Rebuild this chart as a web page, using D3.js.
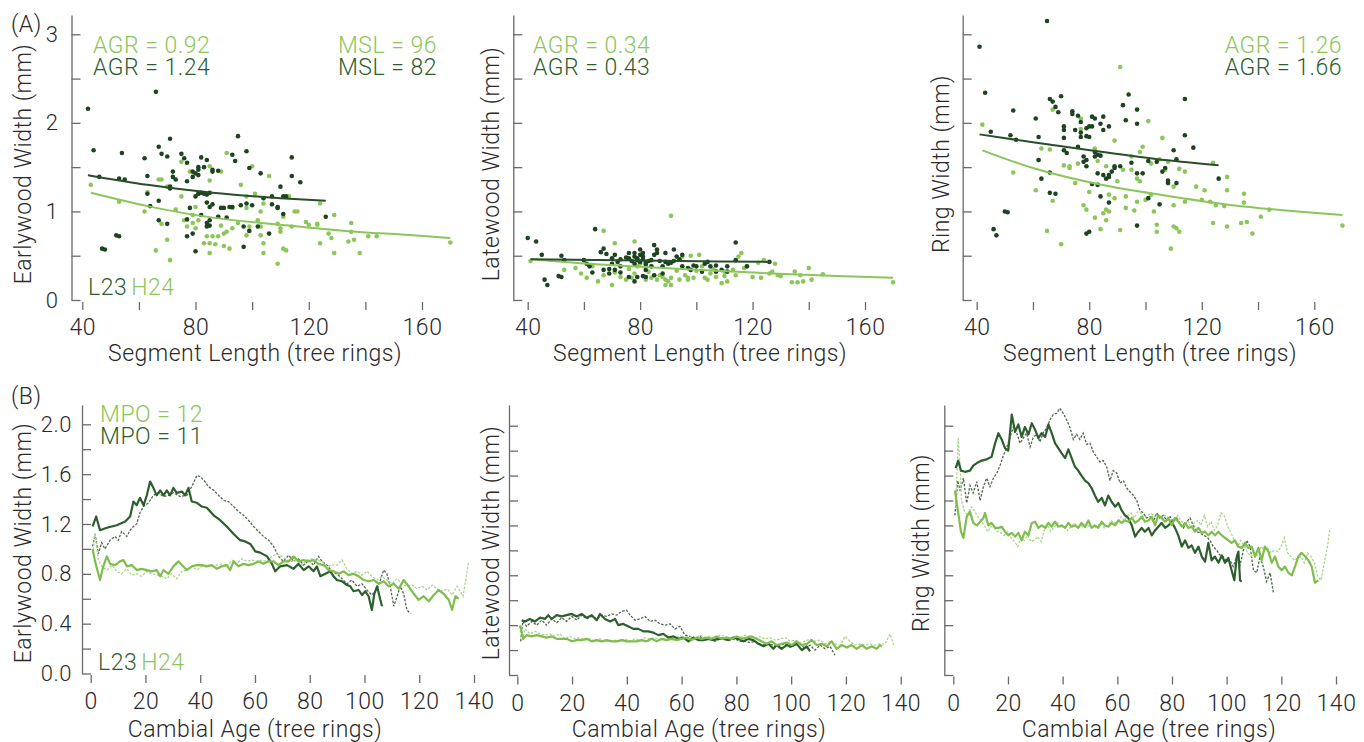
<!DOCTYPE html>
<html><head><meta charset="utf-8">
<script src="https://cdn.jsdelivr.net/npm/d3@7"></script>
<style>
body{margin:0;background:#fff;}
svg text{font-family:Roboto,"Helvetica Neue","Liberation Sans",sans-serif;font-weight:300;letter-spacing:0.5px;}
</style></head><body>
<svg id="c" width="1364" height="742"></svg>
<script>
// ---------- tick / label arrays ----------
const topXTicks=[40,60,80,100,120,140,160];
const topXLabels=[40,80,120,160];
const topYTicks=[0,0.5,1,1.5,2,2.5,3];
const topYLabels=[0,1,2,3];
const botXTicks=[0,20,40,60,80,100,120,140];
const botYTicks=[0,0.2,0.4,0.6,0.8,1.0,1.2,1.4,1.6,1.8,2.0];
const botYLabels=[0,0.4,0.8,1.2,1.6,2.0];
const yTitles=["Earlywood Width (mm)","Latewood Width (mm)","Ring Width (mm)"];
const topXTitle="Segment Length (tree rings)";
const botXTitle="Cambial Age (tree rings)";
const sites=["L23","H24"];
const agrH24=["AGR = 0.92","AGR = 0.34","AGR = 1.26"];
const agrL23=["AGR = 1.24","AGR = 0.43","AGR = 1.66"];
const mslH24="MSL = 96", mslL23="MSL = 82";
const mpoH24="MPO = 12", mpoL23="MPO = 11";

// ---------- (A) scatter data: [segment length, mean width] ----------
const ewL23=[[42,2.16],[66,2.35],[44,1.69],[54,1.66],[71,1.82],[95,1.85],[67,1.73],[62,1.60],[68,1.65],[70,1.62],[75,1.65],[76,1.60],[77,1.55],[82,1.61],[84,1.58],[98,1.68],[93,1.64],[94,1.57],[114,1.61],[99,1.49],[103,1.43],[114,1.40],[117,1.33],[110,1.28],[46,1.39],[53,1.37],[55,1.36],[63,1.40],[72,1.45],[72,1.39],[73,1.36],[77,1.34],[71,1.26],[71,1.28],[79,1.45],[79,1.39],[80,1.43],[81,1.47],[81,1.41],[81,1.50],[83,1.50],[86,1.45],[86,1.47],[88,1.46],[63,1.20],[67,1.12],[64,1.06],[81,1.20],[82,1.21],[83,1.20],[85,1.21],[80,1.17],[78,1.04],[82,0.96],[84,1.10],[85,1.05],[86,1.08],[89,1.04],[90,1.04],[92,1.05],[93,1.05],[96,1.07],[98,1.09],[100,1.07],[104,1.15],[107,1.17],[111,1.17],[112,1.17],[107,1.08],[109,1.05],[109,1.04],[111,0.97],[91,0.93],[88,0.94],[85,0.90],[84,0.87],[84,0.83],[85,0.84],[67,0.90],[70,0.86],[77,0.91],[77,0.72],[79,0.75],[97,0.83],[99,0.78],[102,0.83],[106,0.75],[97,0.60],[52,0.73],[53,0.72],[47,0.58],[48,0.57],[80,0.55],[126,0.94],[84,1.19]];
const ewH24=[[43,1.30],[53,1.11],[62,1.00],[63,1.22],[67,1.36],[68,1.36],[68,0.86],[70,0.68],[71,0.45],[66,0.56],[73,1.02],[75,1.17],[76,0.90],[77,0.83],[79,0.96],[79,0.87],[80,0.81],[81,0.90],[83,0.64],[84,0.72],[85,0.53],[85,0.64],[86,0.72],[87,0.63],[88,0.72],[88,0.94],[89,0.84],[90,0.75],[91,0.77],[90,0.61],[92,0.58],[93,0.81],[95,0.87],[96,1.30],[98,1.04],[98,0.73],[99,0.83],[100,1.51],[101,1.20],[102,0.90],[103,0.83],[103,0.73],[104,1.09],[104,0.64],[104,0.53],[106,1.40],[109,0.86],[110,0.81],[110,0.77],[109,0.41],[111,0.94],[111,0.58],[112,0.56],[113,1.17],[114,0.83],[115,1.00],[116,1.00],[119,0.88],[120,0.85],[123,0.85],[123,0.86],[124,1.09],[124,0.64],[127,0.75],[128,0.70],[129,0.96],[129,0.53],[134,0.66],[135,0.87],[135,0.77],[136,0.68],[138,0.53],[141,0.72],[144,0.72],[170,0.65],[91,1.66],[85,1.51],[89,1.45],[81,1.20],[75,1.56],[78,1.45],[70,1.28],[85,1.35],[98,1.17],[93,1.04],[103,1.00],[80,1.05]];
const lwL23=[[40,0.70],[43,0.66],[45,0.51],[46,0.23],[47,0.17],[51,0.27],[52,0.26],[52,0.50],[53,0.45],[60,0.45],[61,0.41],[63,0.31],[62,0.38],[64,0.80],[66,0.54],[67,0.58],[68,0.52],[70,0.47],[69,0.35],[70,0.41],[71,0.51],[72,0.43],[73,0.46],[73,0.38],[75,0.48],[76,0.53],[76,0.47],[77,0.44],[78,0.41],[78,0.49],[78,0.53],[79,0.47],[79,0.45],[80,0.51],[80,0.43],[80,0.57],[81,0.49],[81,0.53],[81,0.46],[82,0.40],[82,0.42],[82,0.34],[83,0.44],[84,0.38],[84,0.45],[85,0.51],[85,0.62],[86,0.57],[86,0.53],[87,0.44],[88,0.38],[88,0.30],[89,0.43],[90,0.41],[91,0.42],[92,0.57],[92,0.44],[94,0.46],[95,0.38],[97,0.36],[98,0.34],[99,0.39],[100,0.38],[102,0.32],[104,0.43],[105,0.38],[107,0.32],[109,0.34],[111,0.38],[111,0.32],[114,0.65],[114,0.45],[118,0.38],[79,0.26],[78,0.21],[76,0.26],[81,0.27],[82,0.26],[85,0.28],[71,0.34],[73,0.31],[126,0.43],[67,0.34],[69,0.30],[89,0.53],[93,0.49],[95,0.51],[103,0.41],[107,0.39]];
const lwH24=[[41,0.44],[53,0.34],[61,0.25],[63,0.38],[65,0.21],[67,0.78],[67,0.28],[70,0.17],[71,0.64],[71,0.31],[73,0.26],[75,0.23],[76,0.35],[77,0.25],[78,0.66],[78,0.30],[79,0.38],[80,0.41],[81,0.48],[82,0.23],[82,0.26],[83,0.32],[84,0.38],[84,0.25],[85,0.28],[86,0.23],[87,0.28],[88,0.26],[89,0.23],[90,0.21],[91,0.95],[91,0.25],[93,0.33],[94,0.23],[95,0.49],[96,0.28],[97,0.25],[97,0.23],[98,0.50],[99,0.25],[100,0.33],[101,0.51],[102,0.38],[103,0.25],[104,0.23],[105,0.30],[106,0.35],[109,0.19],[110,0.27],[110,0.32],[111,0.21],[113,0.34],[114,0.28],[115,0.49],[116,0.53],[117,0.36],[118,0.38],[120,0.26],[122,0.42],[123,0.25],[124,0.45],[126,0.30],[127,0.32],[128,0.41],[129,0.28],[130,0.27],[135,0.32],[137,0.28],[140,0.36],[145,0.29],[134,0.20],[136,0.20],[138,0.21],[141,0.23],[170,0.20],[59,0.30],[57,0.36],[107,0.26],[89,0.17],[91,0.17]];
const rwL23=[[41,2.86],[65,3.15],[43,2.34],[45,1.90],[53,2.14],[52,1.86],[54,1.81],[61,2.05],[62,1.84],[62,1.58],[63,1.37],[66,1.44],[66,1.21],[68,1.20],[66,2.27],[67,2.24],[70,2.30],[68,2.18],[69,2.12],[71,1.96],[71,1.83],[71,1.92],[71,1.69],[72,1.66],[74,2.13],[74,2.10],[75,1.92],[76,2.08],[76,1.73],[77,2.01],[77,1.89],[77,1.84],[78,1.62],[78,1.56],[79,1.51],[79,1.58],[79,1.94],[79,1.85],[80,1.96],[80,1.84],[81,2.07],[81,1.96],[82,1.67],[82,1.62],[82,2.05],[83,1.43],[83,1.64],[84,1.63],[84,1.99],[85,1.41],[85,1.92],[85,2.07],[86,1.37],[87,1.96],[87,1.39],[87,1.41],[88,1.45],[89,1.49],[91,1.51],[92,2.20],[93,2.03],[94,2.32],[95,1.55],[97,1.43],[97,2.15],[97,1.99],[99,1.43],[101,1.57],[101,1.15],[104,1.56],[105,1.08],[106,1.45],[107,1.49],[108,1.35],[108,1.32],[110,1.69],[111,1.32],[111,1.59],[114,2.27],[114,1.86],[117,1.72],[126,1.37],[46,0.80],[47,0.73],[50,1.00],[51,0.99],[79,0.75],[80,0.77],[87,1.10],[97,0.84],[81,1.31],[83,1.30],[84,1.17],[89,1.51]];
const rwH24=[[42,1.98],[53,1.44],[61,1.24],[62,1.58],[63,1.71],[67,2.15],[67,1.12],[70,0.63],[65,0.78],[71,1.52],[73,1.51],[73,1.49],[75,1.32],[77,2.05],[77,1.93],[78,1.07],[79,1.02],[80,1.22],[82,0.93],[82,1.71],[83,1.30],[84,0.80],[85,0.98],[86,1.02],[86,0.90],[87,1.00],[87,1.19],[89,1.80],[89,1.15],[90,1.34],[91,2.63],[91,0.79],[92,1.47],[93,1.17],[93,1.04],[95,1.62],[96,1.01],[97,1.11],[97,1.37],[98,1.67],[98,1.34],[99,1.73],[100,1.13],[101,2.02],[102,1.19],[102,1.54],[103,1.00],[104,0.85],[104,0.77],[105,1.59],[106,1.83],[107,1.47],[108,1.56],[109,0.58],[110,1.28],[110,1.07],[110,0.83],[111,0.81],[112,0.77],[112,1.48],[114,1.45],[114,1.11],[118,1.28],[120,1.13],[121,1.24],[123,1.11],[124,1.55],[124,0.87],[125,1.07],[128,1.06],[129,1.39],[129,1.24],[129,0.83],[134,0.87],[135,1.20],[135,1.10],[136,0.88],[138,0.75],[141,0.94],[144,1.02],[170,0.84],[66,1.70],[76,1.54],[86,1.51],[95,1.47],[83,1.57]];
// fitted curves
const ewFitL23=[[42,1.41],[63,1.30],[86,1.21],[110,1.15],[126,1.12]];
const ewFitH24=[[43,1.21],[63,1.06],[86,0.93],[110,0.85],[133,0.78],[157,0.73],[170,0.70]];
const lwFitL23=[[41,0.46],[80,0.445],[126,0.43]];
const lwFitH24=[[41,0.46],[53,0.43],[83,0.37],[107,0.33],[127,0.30],[150,0.27],[170,0.25]];
const rwFitL23=[[41,1.87],[60,1.78],[83,1.68],[107,1.58],[126,1.52]];
const rwFitH24=[[42,1.69],[60,1.49],[83,1.31],[107,1.18],[131,1.07],[154,1.00],[170,0.96]];

// ---------- (B) mean curves: [cambial age, width] ----------
const ewAgeL23=[[0.7,1.18],[2,1.26],[3.4,1.15],[5.9,1.17],[9.5,1.19],[12.6,1.22],[14.4,1.26],[15.6,1.38],[16.8,1.35],[18,1.41],[19.3,1.35],[20.5,1.43],[21.7,1.54],[22.9,1.49],[24.1,1.43],[25.4,1.47],[26.6,1.43],[27.8,1.47],[29,1.43],[30.2,1.49],[31.4,1.45],[33.3,1.46],[34.5,1.43],[35.7,1.49],[36.9,1.38],[38.8,1.37],[40.6,1.34],[42.4,1.33],[44.9,1.27],[47.3,1.23],[49.7,1.18],[52.2,1.12],[54.6,1.07],[56.4,1.06],[58.3,1.04],[60.1,0.98],[61.9,0.97],[64.4,0.94],[66.2,0.88],[67.4,0.82],[69.2,0.86],[71.7,0.87],[74.1,0.84],[75.9,0.88],[77.8,0.83],[79.6,0.86],[81.4,0.82],[82.6,0.86],[83.9,0.78],[85.7,0.80],[87.5,0.82],[88.7,0.78],[89.9,0.75],[91.8,0.74],[93.6,0.71],[94.8,0.70],[96,0.66],[97.9,0.67],[99.1,0.63],[100.3,0.66],[101.5,0.62],[102.7,0.51],[103.6,0.64],[104.6,0.70],[105.8,0.59],[106.4,0.54]];
const ewAgeL23b=[[0.7,1.02],[1.6,1.12],[2.8,0.96],[4,1.05],[5.2,1.00],[7.1,1.07],[8.9,1.10],[10.1,1.07],[11.3,1.14],[13.2,1.10],[14.4,1.15],[15.6,1.18],[16.8,1.20],[18,1.29],[19.3,1.34],[21.1,1.37],[22.9,1.43],[24.7,1.45],[26.6,1.42],[28.4,1.43],[30.2,1.45],[32.7,1.42],[35.1,1.43],[36.9,1.50],[38.8,1.59],[40,1.58],[41.4,1.55],[43,1.50],[44.9,1.47],[46.7,1.43],[48.5,1.39],[50.3,1.38],[52.2,1.34],[54,1.30],[55.8,1.27],[57.6,1.23],[59.5,1.18],[61.3,1.14],[63.1,1.10],[65,1.07],[66.8,1.02],[68.6,0.94],[70.4,0.90],[72.3,0.95],[74.1,0.90],[75.9,0.92],[77.8,0.87],[79.6,0.91],[81.4,0.87],[83.2,0.94],[84.5,0.90],[86.3,0.87],[88.1,0.82],[89.9,0.80],[91.8,0.76],[93.6,0.72],[95.4,0.75],[97.3,0.70],[99.1,0.72],[100.9,0.67],[102.7,0.63],[104.6,0.68],[105.8,0.75],[107,0.83],[108.2,0.80],[109.4,0.70],[110.7,0.54],[111.9,0.62],[113.1,0.70],[114.3,0.64],[115.5,0.51],[116.8,0.48]];
const ewAgeH24=[[0.7,1.00],[1.6,0.90],[2.8,0.80],[3.4,0.75],[4.6,0.86],[5.9,0.94],[7.1,0.88],[8.9,0.87],[10.7,0.90],[12,0.91],[13.2,0.86],[15,0.87],[16.8,0.83],[18.6,0.84],[20.5,0.83],[22.3,0.82],[24.1,0.83],[25.4,0.78],[26.6,0.83],[28.4,0.80],[30.2,0.86],[32.1,0.90],[33.3,0.87],[35.1,0.83],[36.9,0.86],[38.8,0.87],[40.6,0.87],[42.4,0.86],[44.2,0.87],[46.1,0.84],[47.9,0.86],[49.7,0.87],[50.9,0.83],[52.2,0.90],[54,0.86],[55.8,0.88],[57.6,0.87],[59.5,0.88],[61.3,0.90],[63.1,0.88],[65,0.90],[66.8,0.90],[68.6,0.87],[70.4,0.90],[72.3,0.90],[74.1,0.94],[75.9,0.90],[77.8,0.91],[79.6,0.90],[81.4,0.91],[83.2,0.88],[85.1,0.87],[86.9,0.83],[88.7,0.82],[90.6,0.80],[92.4,0.82],[94.2,0.79],[96,0.80],[97.9,0.78],[99.7,0.75],[101.5,0.74],[103.4,0.75],[105.2,0.72],[107,0.74],[108.8,0.70],[110.7,0.72],[112.5,0.68],[114.3,0.75],[116.1,0.70],[118,0.64],[119.8,0.59],[121.6,0.62],[123.5,0.58],[125.3,0.63],[127.1,0.67],[128.9,0.64],[130.8,0.59],[132,0.51],[133.2,0.62],[134.4,0.60]];
const ewAgeH24b=[[0.7,0.96],[1.6,1.12],[2.8,0.91],[4,0.86],[5.9,0.83],[7.7,0.87],[9.5,0.82],[11.3,0.80],[13.2,0.84],[15,0.79],[16.8,0.80],[18.6,0.78],[20.5,0.82],[22.3,0.80],[24.1,0.79],[26,0.78],[27.8,0.76],[29.6,0.80],[31.4,0.76],[33.3,0.82],[35.1,0.83],[36.9,0.86],[38.8,0.83],[40.6,0.86],[42.4,0.87],[44.2,0.86],[46.1,0.87],[47.9,0.88],[49.7,0.86],[51.6,0.91],[53.4,0.88],[55.2,0.92],[57,0.90],[58.9,0.91],[60.7,0.90],[62.5,0.91],[64.4,0.90],[66.2,0.94],[68,0.96],[69.9,0.94],[71.7,0.91],[73.5,0.90],[75.3,0.91],[77.2,0.87],[79,0.91],[80.8,0.92],[82.6,0.91],[84.5,0.90],[86.3,0.86],[88.1,0.87],[89.9,0.87],[91.8,0.91],[93.6,0.84],[95.4,0.80],[97.3,0.82],[99.1,0.79],[100.9,0.82],[102.7,0.78],[104.6,0.75],[106.4,0.78],[108.2,0.75],[110.1,0.72],[111.9,0.76],[113.7,0.72],[115.5,0.70],[117.4,0.71],[119.2,0.68],[121,0.70],[122.9,0.67],[124.7,0.71],[126.5,0.68],[128.3,0.66],[130.2,0.68],[132,0.63],[133.8,0.70],[135,0.66],[136,0.62],[137,0.75],[138,0.90]];
const lwAgeL23=[[1.6,0.44],[2.8,0.43],[4.6,0.45],[6.5,0.43],[8.3,0.46],[10.1,0.45],[11.3,0.48],[12.6,0.45],[14.4,0.48],[16.2,0.47],[18,0.48],[19.9,0.49],[21.7,0.47],[23.5,0.49],[25.3,0.46],[27.2,0.48],[29,0.44],[30.2,0.49],[32,0.45],[33.9,0.43],[35.7,0.45],[36.9,0.40],[38.7,0.41],[40.6,0.39],[42.4,0.37],[44.2,0.37],[46,0.35],[47.8,0.35],[49.7,0.34],[51.5,0.32],[53.3,0.33],[55.2,0.30],[57,0.31],[58.8,0.29],[60.6,0.30],[62.5,0.27],[64.3,0.30],[66.1,0.28],[67.9,0.28],[69.8,0.29],[71.6,0.28],[73.4,0.29],[75.3,0.29],[77.1,0.28],[78.9,0.30],[80.7,0.29],[82.6,0.27],[84.4,0.29],[86.2,0.28],[88,0.25],[89.9,0.23],[91.7,0.25],[93.5,0.21],[94.7,0.24],[96.5,0.21],[98.4,0.24],[100.2,0.23],[102,0.25],[103.9,0.20],[105.7,0.23],[106.9,0.19]];
const lwAgeL23b=[[1.2,0.27],[2,0.43],[3.4,0.39],[5.3,0.43],[7.1,0.40],[8.9,0.44],[10.7,0.40],[12.6,0.45],[14.4,0.42],[16.2,0.46],[18,0.43],[19.9,0.47],[21.7,0.44],[23.5,0.48],[25.3,0.45],[27.2,0.47],[29,0.45],[30.8,0.48],[32.6,0.47],[34.5,0.49],[36.3,0.48],[38.1,0.51],[39.9,0.52],[41.2,0.48],[43,0.44],[44.8,0.45],[46.6,0.47],[48.5,0.43],[50.3,0.44],[52.1,0.41],[53.9,0.40],[55.8,0.41],[57.6,0.37],[59.4,0.39],[61.2,0.32],[63.1,0.31],[64.9,0.29],[66.7,0.31],[68.5,0.28],[70.4,0.29],[72.2,0.27],[74,0.29],[75.8,0.30],[77.7,0.28],[79.5,0.29],[81.3,0.27],[83.2,0.27],[85,0.26],[86.8,0.27],[88.6,0.25],[90.5,0.24],[92.3,0.25],[94.1,0.23],[96,0.24],[97.8,0.25],[99.6,0.22],[101.4,0.24],[103.3,0.25],[105.1,0.21],[106.9,0.24],[108.7,0.20],[110.6,0.24],[112.4,0.21],[114.2,0.23],[116,0.16]];
const lwAgeH24=[[1,0.40],[2.2,0.29],[3.4,0.32],[5.3,0.31],[7.1,0.32],[8.9,0.31],[10.7,0.30],[12.6,0.31],[14.4,0.29],[16.2,0.29],[18,0.29],[19.9,0.27],[21.7,0.28],[23.5,0.28],[25.3,0.29],[27.2,0.27],[29,0.28],[30.8,0.27],[32.6,0.28],[34.5,0.27],[36.3,0.27],[38.1,0.28],[39.9,0.27],[41.8,0.27],[43.6,0.27],[45.4,0.28],[47.2,0.27],[49.1,0.29],[50.9,0.27],[52.7,0.29],[54.5,0.28],[56.4,0.29],[58.2,0.28],[60,0.29],[61.8,0.30],[63.7,0.28],[65.5,0.30],[67.3,0.29],[69.1,0.30],[71,0.29],[72.8,0.31],[74.6,0.29],[76.4,0.30],[78.3,0.29],[80.1,0.31],[81.9,0.29],[83.7,0.30],[85.6,0.31],[87.4,0.29],[89.2,0.27],[91,0.25],[92.9,0.27],[94.7,0.24],[96.5,0.25],[98.4,0.26],[100.2,0.24],[102,0.27],[103.9,0.24],[105.7,0.25],[107.5,0.28],[109.3,0.24],[111.2,0.25],[113,0.23],[114.8,0.27],[116.6,0.21],[118.5,0.24],[120.3,0.22],[122.1,0.24],[123.9,0.21],[125.8,0.24],[127.6,0.21],[129.4,0.23],[131.2,0.21],[132.5,0.24],[133.1,0.23]];
const lwAgeH24b=[[1,0.39],[1.6,0.27],[2.8,0.37],[4.6,0.33],[6.5,0.35],[8.3,0.33],[10.1,0.32],[11.9,0.33],[13.8,0.31],[15.6,0.33],[17.4,0.29],[19.2,0.31],[21.1,0.29],[22.9,0.30],[24.7,0.28],[26.5,0.29],[28.4,0.27],[30.2,0.29],[32,0.27],[33.8,0.27],[35.7,0.28],[37.5,0.27],[39.3,0.29],[41.1,0.27],[43,0.29],[44.8,0.28],[46.6,0.30],[48.5,0.29],[50.3,0.30],[52.1,0.28],[53.9,0.29],[55.8,0.31],[57.6,0.29],[59.4,0.32],[61.2,0.29],[63.1,0.31],[64.9,0.29],[66.7,0.32],[68.5,0.30],[70.4,0.31],[72.2,0.29],[74,0.32],[75.8,0.31],[77.7,0.29],[79.5,0.31],[81.3,0.30],[83.2,0.32],[85,0.31],[86.8,0.29],[88.6,0.31],[90.5,0.29],[92.3,0.30],[94.1,0.28],[96,0.29],[97.8,0.30],[99.6,0.27],[101.4,0.28],[103.3,0.26],[105.1,0.27],[106.9,0.29],[108.7,0.27],[110.6,0.28],[112.4,0.25],[114.2,0.27],[116,0.25],[117.9,0.24],[119.7,0.31],[121.5,0.27],[123.3,0.24],[125.2,0.25],[127,0.24],[128.8,0.25],[130.6,0.24],[132.5,0.25],[134.3,0.25],[136.1,0.33],[137.3,0.25],[137.9,0.23]];
const rwAgeL23=[[0.9,1.66],[1.8,1.72],[2.8,1.64],[4.3,1.63],[6.1,1.64],[7.3,1.68],[8.6,1.70],[10.4,1.72],[12.2,1.73],[14,1.75],[15.3,1.86],[16.5,1.94],[17.7,1.89],[18.9,1.82],[20.1,1.80],[21.4,2.09],[22.6,1.95],[23.8,2.01],[25,1.91],[26.2,1.99],[27.5,1.93],[28.7,2.02],[29.9,1.97],[31.1,1.90],[32.3,1.94],[33.6,1.91],[34.8,2.01],[36,1.94],[37.2,1.86],[38.4,1.82],[39.6,1.78],[40.9,1.74],[42.1,1.81],[43.3,1.74],[44.5,1.67],[45.7,1.64],[46.9,1.60],[48.2,1.56],[49.4,1.54],[50.6,1.50],[51.8,1.44],[53,1.39],[54.3,1.42],[55.5,1.36],[56.7,1.44],[57.9,1.39],[59.2,1.35],[60.4,1.38],[61.6,1.32],[62.8,1.28],[64,1.26],[65.3,1.20],[66.5,1.11],[67.7,1.15],[68.9,1.18],[70.1,1.15],[71.4,1.18],[72.6,1.12],[73.8,1.16],[75,1.19],[76.2,1.22],[77.5,1.18],[78.7,1.20],[79.9,1.23],[81.1,1.18],[82.3,1.12],[83.6,1.03],[84.8,1.08],[86,1.02],[87.2,1.04],[88.4,0.98],[89.7,1.03],[90.9,0.95],[92.1,0.91],[93.3,1.06],[94.5,0.92],[95.7,0.95],[97,0.90],[98.2,0.96],[99.4,0.90],[100.6,0.94],[101.8,0.84],[102.8,0.76],[103.7,0.95],[104.3,0.99],[104.9,0.76],[105.5,0.75]];
const rwAgeL23b=[[0.6,1.28],[1.6,1.56],[2.5,1.48],[3.7,1.58],[4.9,1.38],[6.1,1.52],[7.3,1.46],[8.6,1.55],[9.8,1.40],[11,1.51],[12.2,1.58],[13.4,1.51],[14.7,1.58],[15.9,1.62],[17.1,1.68],[18.3,1.76],[19.6,1.83],[20.8,1.91],[22,1.99],[23.2,1.94],[24.4,1.86],[25.6,1.90],[26.8,1.94],[28.1,1.83],[29.3,1.91],[30.5,1.93],[31.7,1.87],[33,1.95],[34.2,1.98],[35.4,2.05],[36.6,2.09],[37.8,2.10],[39,2.14],[40.2,2.10],[41.4,2.05],[42.6,1.99],[43.9,1.89],[45.1,1.93],[46.3,1.89],[47.5,1.94],[48.8,1.85],[50,1.86],[51.2,1.79],[52.4,1.75],[53.6,1.71],[54.9,1.72],[56.1,1.67],[57.3,1.56],[58.5,1.64],[59.8,1.62],[61,1.54],[62.2,1.56],[63.4,1.50],[64.6,1.47],[65.9,1.44],[67.1,1.40],[68.3,1.32],[69.5,1.30],[70.7,1.26],[72,1.27],[73.2,1.23],[74.4,1.30],[75.6,1.26],[76.8,1.28],[78.1,1.24],[79.3,1.27],[80.5,1.23],[81.7,1.26],[82.9,1.22],[84.2,1.18],[85.4,1.23],[86.6,1.26],[87.8,1.20],[89,1.15],[90.3,1.14],[91.5,1.12],[92.7,1.11],[93.9,1.08],[95.1,1.03],[96.4,1.00],[97.6,0.96],[98.8,0.95],[100,0.91],[101.2,0.92],[102.4,0.87],[103.7,0.95],[104.9,0.88],[106.1,1.00],[107.3,1.08],[108.6,1.03],[109.8,0.84],[111,0.82],[112.2,0.95],[113.4,0.87],[114.6,0.75],[115.9,0.82],[117.1,0.66]];
const rwAgeH24=[[0.6,1.48],[1.8,1.30],[2.8,1.15],[3.7,1.10],[4.9,1.27],[6.1,1.31],[7.3,1.22],[8.6,1.20],[9.8,1.23],[11,1.26],[11.6,1.30],[12.8,1.20],[14,1.22],[15.3,1.18],[16.5,1.18],[17.7,1.19],[18.9,1.15],[20.1,1.12],[21.4,1.14],[22.6,1.11],[23.8,1.14],[25,1.08],[26.2,1.15],[27.5,1.12],[28.7,1.22],[29.9,1.23],[31.1,1.18],[32.3,1.20],[33.6,1.18],[34.8,1.22],[36,1.19],[37.2,1.23],[38.4,1.19],[39.6,1.20],[40.9,1.18],[42.1,1.22],[43.3,1.19],[44.5,1.20],[45.7,1.18],[46.9,1.22],[48.2,1.19],[49.4,1.24],[50.6,1.18],[51.8,1.20],[53,1.18],[54.3,1.23],[55.5,1.20],[56.7,1.19],[57.9,1.22],[59.2,1.20],[60.4,1.24],[61.6,1.22],[62.8,1.24],[64,1.23],[65.3,1.26],[66.5,1.22],[67.7,1.24],[68.9,1.27],[70.1,1.23],[71.4,1.24],[72.6,1.27],[73.8,1.20],[75,1.28],[76.2,1.26],[77.5,1.23],[78.7,1.26],[79.9,1.20],[81.1,1.26],[82.3,1.23],[83.6,1.19],[84.8,1.22],[86,1.18],[87.2,1.19],[88.4,1.15],[89.7,1.18],[90.9,1.14],[92.1,1.15],[93.3,1.12],[94.5,1.15],[95.7,1.12],[97,1.15],[98.2,1.12],[99.4,1.10],[100.6,1.08],[101.8,1.06],[103,1.08],[104.3,1.03],[105.5,1.02],[106.7,1.06],[107.9,1.02],[109.2,1.03],[110.4,0.95],[111.6,1.02],[112.8,0.92],[114,1.03],[115.3,0.99],[116.5,0.90],[117.7,0.95],[118.9,0.87],[120.1,0.84],[121.3,0.87],[122.6,0.82],[123.8,0.80],[125,0.87],[126.2,0.95],[127.4,0.98],[128.7,0.95],[129.9,0.92],[131.1,0.87],[132.3,0.74],[133.5,0.76]];
const rwAgeH24b=[[0.9,1.35],[1.8,1.90],[2.5,1.67],[3,1.40],[4,1.32],[5.3,1.28],[6.5,1.35],[7.7,1.32],[8.9,1.27],[10.1,1.24],[11.3,1.20],[12.6,1.15],[13.8,1.19],[15,1.18],[16.2,1.15],[17.5,1.14],[18.7,1.12],[19.9,1.15],[21.1,1.10],[22.4,1.07],[23.6,1.03],[24.8,1.10],[26,1.08],[27.2,1.12],[28.4,1.07],[29.6,1.08],[30.9,1.11],[32.1,1.07],[33.3,1.16],[34.5,1.20],[35.7,1.15],[37,1.19],[38.2,1.22],[39.4,1.18],[40.6,1.20],[41.8,1.16],[43.1,1.19],[44.3,1.22],[45.5,1.19],[46.7,1.20],[47.9,1.18],[49.1,1.20],[50.4,1.19],[51.6,1.18],[52.8,1.20],[54,1.22],[55.2,1.18],[56.5,1.20],[57.7,1.24],[58.9,1.22],[60.1,1.23],[61.4,1.27],[62.6,1.24],[63.8,1.28],[65,1.30],[66.2,1.26],[67.5,1.31],[68.7,1.30],[69.9,1.26],[71.1,1.28],[72.3,1.30],[73.6,1.27],[74.8,1.28],[76,1.26],[77.2,1.28],[78.4,1.27],[79.6,1.24],[80.9,1.26],[82.1,1.28],[83.3,1.24],[84.5,1.20],[85.8,1.24],[87,1.18],[88.2,1.22],[89.4,1.24],[90.6,1.20],[91.8,1.28],[93.1,1.19],[94.3,1.23],[95.5,1.16],[96.7,1.20],[97.9,1.30],[99.1,1.28],[100.4,1.19],[101.6,1.14],[102.8,1.08],[104,1.03],[105.2,1.08],[106.5,1.03],[107.7,0.98],[108.9,0.95],[110.1,0.98],[111.4,0.96],[112.6,1.03],[113.8,1.00],[115,1.02],[116.2,0.98],[117.5,1.00],[118.7,0.99],[119.9,1.03],[121.1,1.10],[122.3,0.98],[123.6,0.95],[124.8,0.92],[126,0.94],[127.2,0.95],[128.4,0.90],[129.6,0.98],[130.9,0.95],[132.1,0.90],[133.3,0.79],[134.5,0.76],[135.7,0.90],[136.9,1.03],[137.8,1.18]];

// ---------- styling ----------
const DARK="#2d5e2e", LIGHT="#8cc65a", DOTDARK="#1e4320", DASHDARK="#50684f", DASHLIGHT="#a9d68b";
const TXT="#2a2a2a", AX="#6a6a6a", FS=23;

const svg=d3.select("#c");
const scatterSets=[[ewH24,ewL23,ewFitH24,ewFitL23],[lwH24,lwL23,lwFitH24,lwFitL23],[rwH24,rwL23,rwFitH24,rwFitL23]];
const ageSets=[[ewAgeL23b,ewAgeH24b,ewAgeL23,ewAgeH24],[lwAgeL23b,lwAgeH24b,lwAgeL23,lwAgeH24],[rwAgeL23b,rwAgeH24b,rwAgeL23,rwAgeH24]];
const topLayout=[{ax:71.5,a:82.3,b:422,tx:31,tt:255},{ax:513.3,a:527.7,b:865,tx:499,tt:700},{ax:962.7,a:976.7,b:1314.3,tx:949,tt:1150}];
const botLayout=[{ax:82,a:90.7,b:474,y0:673.5,y2:424.3,tx:31,tt:255},{ax:509,a:517.3,b:900.7,y0:675,y2:425.7,tx:499,tt:699},{ax:944.3,a:953.3,b:1336,y0:675,y2:425.7,tx:929,tt:1149}];

function styleAxis(g){
  g.selectAll("path.domain").attr("stroke",AX).attr("stroke-width",1.3);
  g.selectAll(".tick line").attr("stroke",AX).attr("stroke-width",1.3);
  g.selectAll(".tick text").attr("fill",TXT).style("font-size",FS+"px");
}
function txt(x,y,s,col,anchor){
  return svg.append("text").attr("x",x).attr("y",y).attr("fill",col).attr("text-anchor",anchor||"start").style("font-size",FS+"px").text(s);
}
// two-line annotation in one text element (light line on top, dark below)
function pair(x,y,s1,s2,anchor){
  const t=svg.append("text").attr("text-anchor",anchor||"start").style("font-size",FS+"px");
  t.append("tspan").attr("x",x).attr("y",y).attr("fill",LIGHT).text(s1);
  t.append("tspan").attr("x",x).attr("dy",22).attr("fill",DARK).text(s2);
}
// "L23 H24" site key in one text element
function siteKey(x,y){
  const t=svg.append("text").attr("x",x).attr("y",y).style("font-size",FS+"px");
  t.append("tspan").attr("fill",DARK).text(sites[0]);
  t.append("tspan").attr("dx",4).attr("fill",LIGHT).text(sites[1]);
}

// ----- top row (A) -----
topLayout.forEach((L,i)=>{
  const x=d3.scaleLinear().domain([40,160]).range([L.a,L.b]);
  const y=d3.scaleLinear().domain([0,3]).range([300,34.3]);
  const yA=y.copy().domain([0,y.invert(15)]).range([300,15]);
  const gy=svg.append("g").attr("transform",`translate(${L.ax},0)`)
    .call(d3.axisLeft(yA).tickValues(topYTicks).tickSizeInner(-9).tickSizeOuter(0).tickPadding(13)
      .tickFormat(d=> i===0 && topYLabels.includes(d)? d3.format("d")(d):""));
  styleAxis(gy); gy.selectAll(".tick text").style("font-size","22px");
  const gx=svg.append("g").attr("transform","translate(0,302)")
    .call(d3.axisBottom(x).tickValues(topXTicks).tickSize(8).tickPadding(9)
      .tickFormat(d=> topXLabels.includes(d)? d:""));
  gx.select("path.domain").remove(); styleAxis(gx);
  const [light,dark,fitL,fitD]=scatterSets[i];
  const g=svg.append("g");
  g.selectAll("circle.l").data(light).join("circle").attr("class","l")
    .attr("cx",d=>x(d[0])).attr("cy",d=>y(d[1])).attr("r",2.3).attr("fill",LIGHT);
  g.selectAll("circle.d").data(dark).join("circle").attr("class","d")
    .attr("cx",d=>x(d[0])).attr("cy",d=>y(d[1])).attr("r",2.3).attr("fill",DOTDARK);
  const line=d3.line().x(d=>x(d[0])).y(d=>y(d[1])).curve(d3.curveMonotoneX);
  g.append("path").attr("d",line(fitL)).attr("fill","none").attr("stroke",LIGHT).attr("stroke-width",2);
  g.append("path").attr("d",line(fitD)).attr("fill","none").attr("stroke","#2a4d2b").attr("stroke-width",2);
  svg.append("text").attr("transform",`translate(${L.tx},164) rotate(-90)`).attr("text-anchor","middle")
    .attr("fill",TXT).style("font-size",FS+"px").text(yTitles[i]);
  txt(L.tt,361,topXTitle,TXT,"middle");
});
txt(11,32,"(A)",TXT);
pair(93,53,agrH24[0],agrL23[0]);
pair(437,53,mslH24,mslL23,"end");
siteKey(88,295);
pair(533,53,agrH24[1],agrL23[1]);
pair(1342,53,agrH24[2],agrL23[2],"end");

// ----- bottom row (B) -----
botLayout.forEach((L,i)=>{
  const x=d3.scaleLinear().domain([0,140]).range([L.a,L.b]);
  const y=d3.scaleLinear().domain([0,2]).range([L.y0,L.y2]);
  const yA=y.copy().domain([0,y.invert(405)]).range([L.y0,405]);
  const gy=svg.append("g").attr("transform",`translate(${L.ax},0)`)
    .call(d3.axisLeft(yA).tickValues(botYTicks).tickSizeInner(-9).tickSizeOuter(0).tickPadding(10)
      .tickFormat(d=> i===0 && botYLabels.some(v=>Math.abs(v-d)<1e-6)? d3.format(".1f")(d):""));
  styleAxis(gy); gy.selectAll(".tick text").style("font-size","22px");
  const gx=svg.append("g").attr("transform",`translate(0,${L.y0+1.5})`)
    .call(d3.axisBottom(x).tickValues(botXTicks).tickSize(8).tickPadding(10));
  gx.select("path.domain").remove(); styleAxis(gx);
  const [dDash,lDash,dSol,lSol]=ageSets[i];
  const line=d3.line().x(d=>x(d[0])).y(d=>y(d[1]));
  const g=svg.append("g");
  g.append("path").attr("d",line(dDash)).attr("fill","none").attr("stroke",DASHDARK).attr("stroke-width",1.3).attr("stroke-dasharray","2.5,1.5");
  g.append("path").attr("d",line(lDash)).attr("fill","none").attr("stroke",DASHLIGHT).attr("stroke-width",1.3).attr("stroke-dasharray","2.5,1.5");
  g.append("path").attr("d",line(dSol)).attr("fill","none").attr("stroke",DARK).attr("stroke-width",2.2).attr("stroke-linejoin","round");
  g.append("path").attr("d",line(lSol)).attr("fill","none").attr("stroke","#80bd4f").attr("stroke-width",2.2).attr("stroke-linejoin","round");
  svg.append("text").attr("transform",`translate(${L.tx},543) rotate(-90)`).attr("text-anchor","middle")
    .attr("fill",TXT).style("font-size",FS+"px").text(yTitles[i]);
  txt(L.tt,737,botXTitle,TXT,"middle");
});
txt(11,404,"(B)",TXT);
pair(100,422,mpoH24,mpoL23);
siteKey(98,670);
</script>
</body></html>
